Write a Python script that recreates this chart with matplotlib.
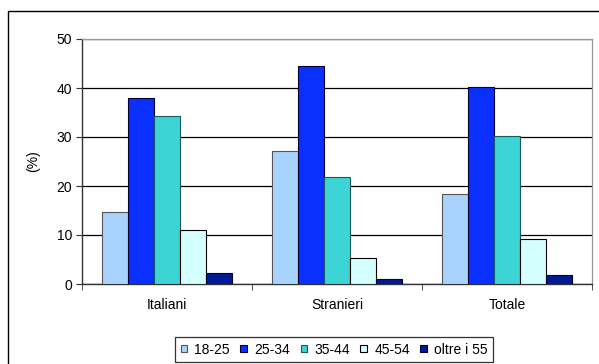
import matplotlib
matplotlib.use("Agg")
import matplotlib.pyplot as plt
from matplotlib.patches import Rectangle
import numpy as np

plt.rcParams['font.family'] = ['Liberation Sans', 'DejaVu Sans']

categorie = ["Italiani", "Stranieri", "Totale"]
fasce = ["18-25", "25-34", "35-44", "45-54", "oltre i 55"]
valori = {
    "18-25": [14.6, 27.2, 18.4],
    "25-34": [38.0, 44.4, 40.2],
    "35-44": [34.3, 21.8, 30.3],
    "45-54": [11.0, 5.4, 9.1],
    "oltre i 55": [2.3, 0.95, 1.8],
}
colori = ["#A9D3FF", "#0A30FF", "#3CD4D4", "#D4FFFF", "#001A96"]
bordi = ["#555555", "#000033", "#1a5a5a", "#000000", "#000033"]

fig = plt.figure(figsize=(5.99, 3.64), dpi=100)
# cornice esterna (tagliata a destra e in basso)
fig.patches.append(Rectangle((8 / 599, -0.1), 1.2, 1 - 11 / 364 + 0.1,
                             transform=fig.transFigure, fill=False,
                             edgecolor="black", linewidth=1.0))

ax = fig.add_axes([82 / 599, 1 - 284 / 364, 510 / 599, 245 / 364])
x = np.arange(len(categorie))
larghezza = 0.153
for i, fascia in enumerate(fasce):
    pos = x + (i - 2) * larghezza
    ax.bar(pos, valori[fascia], width=larghezza, color=colori[i],
           edgecolor=bordi[i], linewidth=0.8, label=fascia, zorder=3)

ax.set_xlim(-0.5, 2.5)
ax.set_ylim(0, 50)
ax.set_yticks(range(0, 51, 10))
ax.yaxis.grid(True, color="black", linewidth=0.9, zorder=0)
ax.set_axisbelow(True)

ax.set_xticks(x)
ax.set_xticklabels(categorie, fontsize=10)
ax.set_xticks([-0.5, 0.5, 1.5, 2.5], minor=True)
ax.tick_params(axis="x", which="major", length=0, pad=10)
ax.tick_params(axis="x", which="minor", length=4, direction="out", color="#333333")
ax.tick_params(axis="y", labelsize=10, length=4, direction="out", color="#333333", pad=3)
ax.set_ylabel("(%)", fontsize=10, labelpad=12)

for lato in ["top", "right"]:
    ax.spines[lato].set_color("#999999")
    ax.spines[lato].set_linewidth(0.9)
for lato in ["left", "bottom"]:
    ax.spines[lato].set_color("#333333")
    ax.spines[lato].set_linewidth(1.0)

leg = fig.legend(loc="upper left", bbox_to_anchor=(175 / 599, 1 - 337 / 364),
                 ncol=5, fontsize=10, frameon=True, fancybox=False,
                 handlelength=0.45, handleheight=0.45, handletextpad=0.55,
                 columnspacing=0.75, borderpad=0.4, borderaxespad=0)
leg.get_frame().set_edgecolor("black")
leg.get_frame().set_linewidth(0.9)

fig.savefig("out.png", dpi=100)
